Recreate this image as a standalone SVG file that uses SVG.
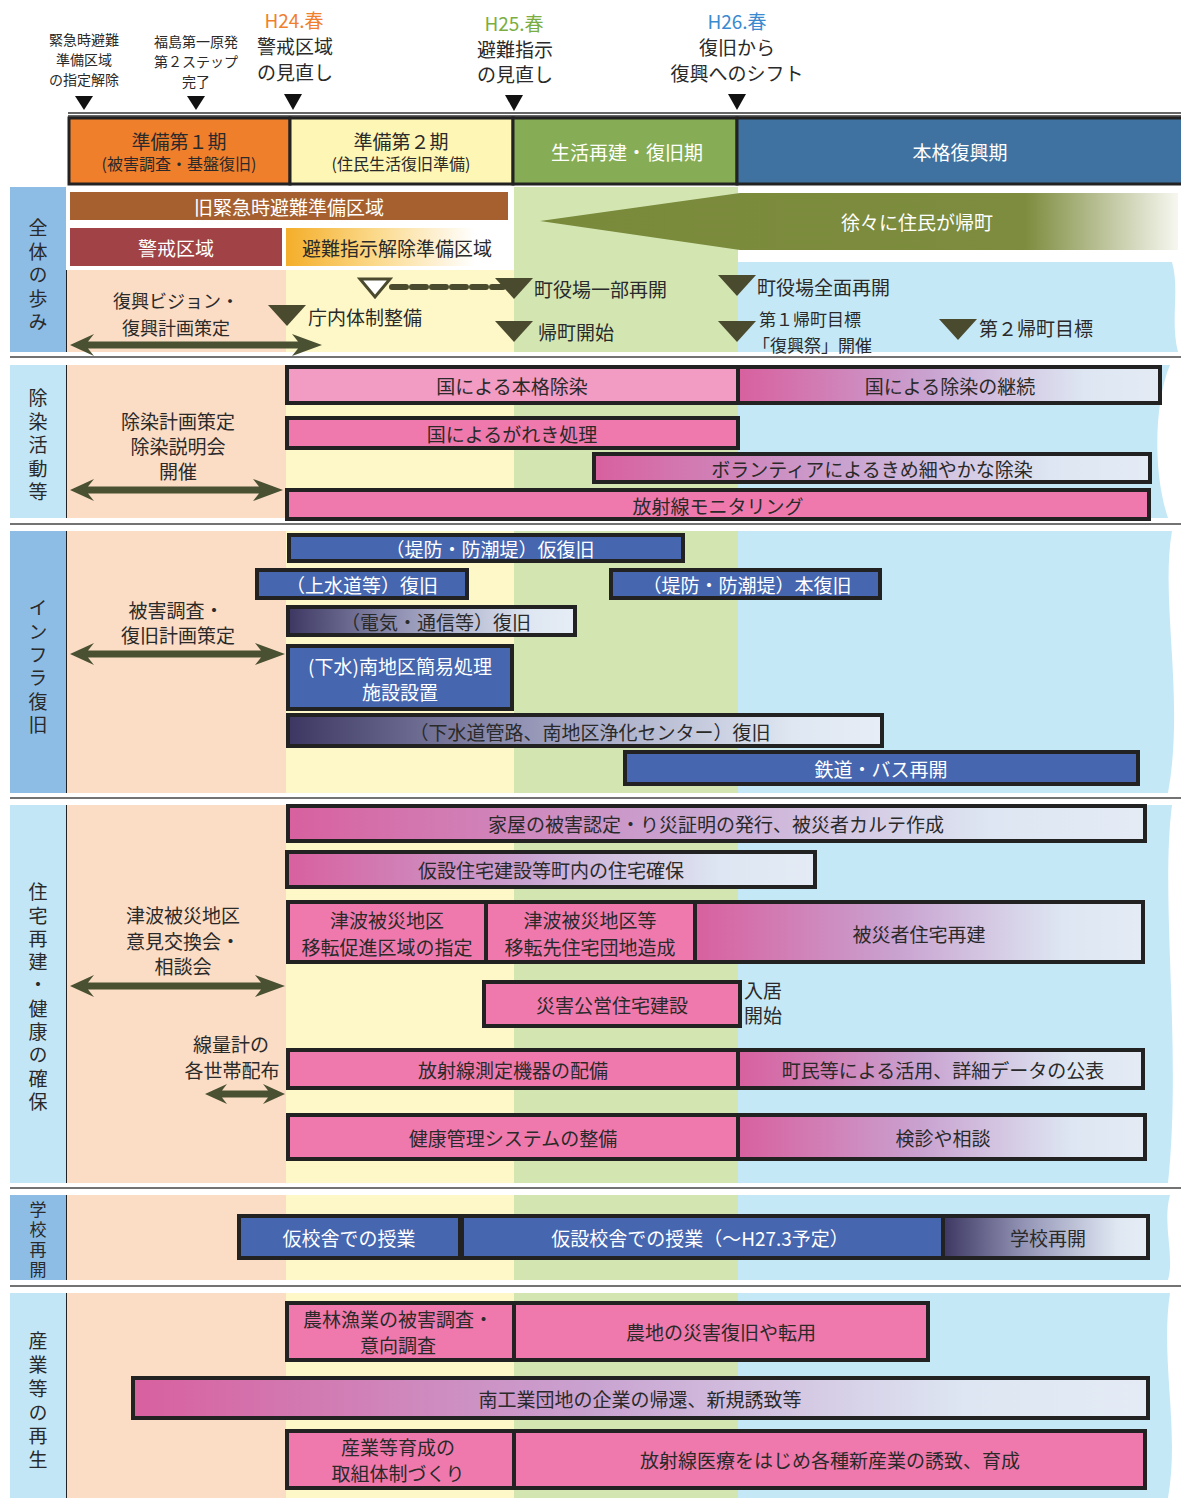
<svg xmlns="http://www.w3.org/2000/svg" width="1181" height="1498" viewBox="0 0 1181 1498">
<defs>
<style>
text{font-family:"Noto Sans CJK JP","Noto Sans",sans-serif;fill:#2a2a2a;font-size:19px;dominant-baseline:central}
.c{text-anchor:middle}
.w{fill:#ffffff}
.sm{font-size:14px}
.md{font-size:16px}
.vt{writing-mode:vertical-rl;text-anchor:start}
.bar{stroke:#222;stroke-width:4}
.pk{fill:#ef79ac}
.bl{fill:#4666b0}
.peach{fill:#fbdcc4}
.yel{fill:#fef8c8}
.grn{fill:#d3e6b2}
.lb{fill:#c5e8f7}
.lab1{fill:#8dbde5}
.lab2{fill:#c3e6f6}
.tri{fill:#4a4a2e}
.arr{fill:#4a5133}
.sep{stroke:#444;stroke-width:1.5}
.vl{stroke:#222;stroke-width:2}
</style>
<linearGradient id="pf" x1="0" y1="0" x2="1" y2="0">
<stop offset="0" stop-color="#d8609f"/>
<stop offset="0.45" stop-color="#c9a2d0"/>
<stop offset="0.82" stop-color="#dde6f2"/>
<stop offset="1" stop-color="#e4ebf5"/>
</linearGradient>
<linearGradient id="dg" x1="0" y1="0" x2="1" y2="0">
<stop offset="0" stop-color="#3c3762"/>
<stop offset="0.4" stop-color="#9495b6"/>
<stop offset="0.85" stop-color="#dfe7f2"/>
<stop offset="1" stop-color="#e6edf6"/>
</linearGradient>
<linearGradient id="og" x1="0" y1="0" x2="1" y2="0">
<stop offset="0" stop-color="#f4ae2a"/>
<stop offset="0.4" stop-color="#fbd98a"/>
<stop offset="0.85" stop-color="#ffffff"/>
</linearGradient>
<linearGradient id="wg" x1="0" y1="0" x2="1" y2="0">
<stop offset="0" stop-color="#7a8a3b"/>
<stop offset="0.76" stop-color="#7d8c3e"/>
<stop offset="1" stop-color="#f7f7f0"/>
</linearGradient>
</defs>
<rect width="1181" height="1498" fill="#ffffff"/>

<!-- section backgrounds -->
<g id="backgrounds">
<rect x="514" y="187" width="224" height="165" class="grn"/>
<rect x="67" y="270" width="219" height="82" class="peach"/>
<rect x="286" y="270" width="228" height="82" class="yel"/>
<path d="M738,262 H1172 C1180,290 1170,320 1178,352 H738 Z" class="lb"/>
<rect x="67" y="365" width="219" height="153" class="peach"/>
<rect x="286" y="365" width="228" height="153" class="yel"/>
<rect x="514" y="365" width="224" height="153" class="grn"/>
<path d="M738,365 H1170 C1155,400 1152,470 1168,518 H738 Z" class="lb"/>
<rect x="67" y="531" width="219" height="262" class="peach"/>
<rect x="286" y="531" width="228" height="262" class="yel"/>
<rect x="514" y="531" width="224" height="262" class="grn"/>
<path d="M738,531 H1172 C1160,600 1185,700 1168,793 H738 Z" class="lb"/>
<rect x="67" y="805" width="219" height="378" class="peach"/>
<rect x="286" y="805" width="228" height="378" class="yel"/>
<rect x="514" y="805" width="224" height="378" class="grn"/>
<path d="M738,805 H1172 C1160,900 1182,1050 1168,1183 H738 Z" class="lb"/>
<rect x="67" y="1195" width="219" height="85" class="peach"/>
<rect x="286" y="1195" width="228" height="85" class="yel"/>
<rect x="514" y="1195" width="224" height="85" class="grn"/>
<path d="M738,1195 H1170 C1162,1225 1175,1255 1168,1280 H738 Z" class="lb"/>
<rect x="67" y="1293" width="219" height="205" class="peach"/>
<rect x="286" y="1293" width="228" height="205" class="yel"/>
<rect x="514" y="1293" width="224" height="205" class="grn"/>
<path d="M738,1293 H1170 C1160,1360 1180,1430 1168,1498 H738 Z" class="lb"/>
</g>

<!-- separators -->
<g id="separators">
<line x1="10" y1="357" x2="1181" y2="357" class="sep"/>
<line x1="10" y1="524" x2="1181" y2="524" class="sep"/>
<line x1="10" y1="798" x2="1181" y2="798" class="sep"/>
<line x1="10" y1="1188" x2="1181" y2="1188" class="sep"/>
<line x1="10" y1="1286" x2="1181" y2="1286" class="sep"/>
<line x1="66" y1="270" x2="66" y2="352" class="vl"/>
<line x1="66" y1="365" x2="66" y2="518" class="vl"/>
<line x1="66" y1="531" x2="66" y2="793" class="vl"/>
<line x1="66" y1="805" x2="66" y2="1183" class="vl"/>
<line x1="66" y1="1195" x2="66" y2="1280" class="vl"/>
<line x1="66" y1="1293" x2="66" y2="1498" class="vl"/>
</g>

<!-- section labels -->
<g id="label-s1"><rect x="10" y="187" width="56" height="165" class="lab1"/>
<text class="vt" x="38" y="218.5" style="letter-spacing:4.5px">全体の歩み</text></g>
<g id="label-s2"><rect x="10" y="365" width="56" height="153" class="lab2"/>
<text class="vt" x="38" y="388.5" style="letter-spacing:4.5px">除染活動等</text></g>
<g id="label-s3"><rect x="10" y="531" width="56" height="262" class="lab1"/>
<text class="vt" x="38" y="598.5" style="letter-spacing:4.4px">インフラ復旧</text></g>
<g id="label-s4"><rect x="10" y="805" width="56" height="378" class="lab2"/>
<text class="vt" x="38" y="882.5" style="letter-spacing:4.3px">住宅再建・健康の確保</text></g>
<g id="label-s5"><rect x="10" y="1195" width="56" height="85" class="lab1"/>
<text class="vt" x="38" y="1201.5" style="font-size:17px;letter-spacing:3px">学校再開</text></g>
<g id="label-s6"><rect x="10" y="1293" width="56" height="205" class="lab2"/>
<text class="vt" x="38" y="1331.5" style="letter-spacing:4.8px">産業等の再生</text></g>

<!-- header -->
<g id="timeline-header">
<line x1="68" y1="113" x2="1181" y2="113" stroke="#333" stroke-width="1.5"/>
<line x1="68" y1="116" x2="1181" y2="116" stroke="#333" stroke-width="1.5"/>
<polygon points="75,96 93,96 84,110" fill="#111"/>
<polygon points="187,96 205,96 196,110" fill="#111"/>
<polygon points="284,94 302,94 293,110" fill="#111"/>
<polygon points="505,95 523,95 514,111" fill="#111"/>
<polygon points="728,94 746,94 737,110" fill="#111"/>
<text class="c sm"><tspan x="84" y="39">緊急時避難</tspan><tspan x="84" y="59">準備区域</tspan><tspan x="84" y="79">の指定解除</tspan></text>
<text class="c sm"><tspan x="196" y="41">福島第一原発</tspan><tspan x="196" y="61">第２ステップ</tspan><tspan x="196" y="81">完了</tspan></text>
<text class="c" x="294" y="19" style="fill:#f0802e">H24.春</text>
<text class="c"><tspan x="295" y="45">警戒区域</tspan><tspan x="295" y="71">の見直し</tspan></text>
<text class="c" x="514" y="22" style="fill:#7aae40">H25.春</text>
<text class="c"><tspan x="515" y="48">避難指示</tspan><tspan x="515" y="73">の見直し</tspan></text>
<text class="c" x="737" y="20" style="fill:#3a8ad0">H26.春</text>
<text class="c"><tspan x="737" y="46">復旧から</tspan><tspan x="737" y="72">復興へのシフト</tspan></text>
</g>
<g id="phase1"><rect x="69" y="118" width="221" height="66" fill="#f07f2c" stroke="#222" stroke-width="3"/>
<text class="c" x="179" y="140">準備第１期</text><text class="c md" x="179" y="163">(被害調査・基盤復旧)</text></g>
<g id="phase2"><rect x="290" y="118" width="223" height="66" fill="#fef6b4" stroke="#222" stroke-width="3"/>
<text class="c" x="401" y="140">準備第２期</text><text class="c md" x="401" y="163">(住民生活復旧準備)</text></g>
<g id="phase3"><rect x="513" y="118" width="224" height="66" fill="#86ad55" stroke="#222" stroke-width="3"/>
<text class="c w" x="627" y="151">生活再建・復旧期</text></g>
<g id="phase4"><rect x="737" y="118" width="446" height="66" fill="#3f72a0" stroke="#222" stroke-width="3"/>
<text class="c w" x="960" y="151">本格復興期</text></g>

<!-- S1 content -->
<g id="zone-old"><rect x="70" y="192" width="438" height="28" fill="#a6602f"/><text class="c w" x="289" y="206">旧緊急時避難準備区域</text></g>
<g id="zone-return"><polygon points="540,221 740,193 1178,193 1178,250 740,250" fill="url(#wg)"/><text class="c w" x="917" y="221">徐々に住民が帰町</text></g>
<g id="zone-keikai"><rect x="70" y="228" width="212" height="38" fill="#a04246"/><text class="c w" x="176" y="247">警戒区域</text></g>
<g id="zone-hinan"><rect x="286" y="228" width="222" height="38" fill="url(#og)"/><text class="c" x="397" y="247">避難指示解除準備区域</text></g>
<g id="ms-vision"><text class="c" style="font-size:18px"><tspan x="176" y="300">復興ビジョン・</tspan><tspan x="176" y="327">復興計画策定</tspan></text></g>
<g id="ms-chonai"><polygon points="268,305 306,305 287,326" class="tri"/><text x="308" y="316">庁内体制整備</text></g>
<g id="ms-white"><polygon points="360,279 390,279 375,297" fill="#ffffff" stroke="#4a4a2e" stroke-width="3"/></g>
<g id="ms-yakuba1"><polygon points="495,278 533,278 514,299" class="tri"/><text x="534" y="288">町役場一部再開</text></g>
<g id="ms-kicho"><polygon points="495,321 533,321 514,342" class="tri"/><text x="538" y="331">帰町開始</text></g>
<g id="ms-yakuba2"><polygon points="718,275 756,275 737,296" class="tri"/><text x="757" y="286">町役場全面再開</text></g>
<g id="ms-goal1"><polygon points="718,321 756,321 737,342" class="tri"/><text x="759" y="318" style="font-size:17px">第１帰町目標</text><text x="753" y="344" style="font-size:17px">「復興祭」開催</text></g>
<g id="ms-goal2"><polygon points="939,319 977,319 958,340" class="tri"/><text x="979" y="327">第２帰町目標</text></g>

<!-- S2 -->
<g id="s2-text"><text class="c"><tspan x="178" y="420">除染計画策定</tspan><tspan x="178" y="445">除染説明会</tspan><tspan x="178" y="470">開催</tspan></text></g>
<g id="bar-honkaku"><rect x="287" y="367" width="451" height="36" fill="#f29bc3" class="bar"/><text class="c" x="512" y="385">国による本格除染</text></g>
<g id="bar-keizoku"><rect x="738" y="367" width="422" height="36" fill="url(#pf)" class="bar"/><text class="c" x="950" y="385">国による除染の継続</text></g>
<g id="bar-gareki"><rect x="287" y="418" width="451" height="30" class="bar pk"/><text class="c" x="512" y="433">国によるがれき処理</text></g>
<g id="bar-volunteer"><rect x="594" y="454" width="556" height="28" fill="url(#pf)" class="bar"/><text class="c" x="872" y="468">ボランティアによるきめ細やかな除染</text></g>
<g id="bar-monitoring"><rect x="287" y="490" width="862" height="29" class="bar pk"/><text class="c" x="718" y="505">放射線モニタリング</text></g>

<!-- S3 -->
<g id="s3-text"><text class="c"><tspan x="176" y="609">被害調査・</tspan><tspan x="178" y="634">復旧計画策定</tspan></text></g>
<g id="bar-teibo1"><rect x="289" y="535" width="394" height="26" class="bar bl"/><text class="c w" x="490" y="548">（堤防・防潮堤）仮復旧</text></g>
<g id="bar-josui"><rect x="257" y="570" width="210" height="28" class="bar bl"/><text class="c w" x="362" y="584">（上水道等）復旧</text></g>
<g id="bar-teibo2"><rect x="611" y="570" width="269" height="28" class="bar bl"/><text class="c w" x="747" y="584">（堤防・防潮堤）本復旧</text></g>
<g id="bar-denki"><rect x="288" y="607" width="287" height="28" fill="url(#dg)" class="bar"/><text class="c" x="436" y="621">（電気・通信等）復旧</text></g>
<g id="bar-gesui1"><rect x="288" y="646" width="224" height="63" class="bar bl"/><text class="c w"><tspan x="400" y="665">(下水)南地区簡易処理</tspan><tspan x="400" y="691">施設設置</tspan></text></g>
<g id="bar-gesui2"><rect x="288" y="715" width="594" height="31" fill="url(#dg)" class="bar"/><text class="c" x="590" y="731">（下水道管路、南地区浄化センター）復旧</text></g>
<g id="bar-tetsudo"><rect x="625" y="752" width="513" height="32" class="bar bl"/><text class="c w" x="881" y="768">鉄道・バス再開</text></g>

<!-- S4 -->
<g id="s4-text"><text class="c"><tspan x="183" y="914">津波被災地区</tspan><tspan x="183" y="940">意見交換会・</tspan><tspan x="183" y="965">相談会</tspan></text>
<text class="c"><tspan x="231" y="1043">線量計の</tspan><tspan x="232" y="1069">各世帯配布</tspan></text></g>
<g id="bar-kaoku"><rect x="288" y="806" width="857" height="35" fill="url(#pf)" class="bar"/><text class="c" x="716" y="823">家屋の被害認定・り災証明の発行、被災者カルテ作成</text></g>
<g id="bar-kasetsu"><rect x="287" y="852" width="528" height="35" fill="url(#pf)" class="bar"/><text class="c" x="551" y="869">仮設住宅建設等町内の住宅確保</text></g>
<g id="bar-iten1"><rect x="288" y="902" width="198" height="60" class="bar pk"/><text class="c"><tspan x="387" y="919">津波被災地区</tspan><tspan x="387" y="946">移転促進区域の指定</tspan></text></g>
<g id="bar-iten2"><rect x="486" y="902" width="209" height="60" class="bar pk"/><text class="c"><tspan x="590" y="919">津波被災地区等</tspan><tspan x="590" y="946">移転先住宅団地造成</tspan></text></g>
<g id="bar-saiken"><rect x="695" y="902" width="448" height="60" fill="url(#pf)" class="bar"/><text class="c" x="919" y="933">被災者住宅再建</text></g>
<g id="bar-koei"><rect x="484" y="982" width="256" height="44" class="bar pk"/><text class="c" x="612" y="1004">災害公営住宅建設</text></g>
<g id="note-nyukyo"><text><tspan x="744" y="989">入居</tspan><tspan x="744" y="1014">開始</tspan></text></g>
<g id="bar-sokutei"><rect x="288" y="1050" width="450" height="38" class="bar pk"/><text class="c" x="513" y="1069">放射線測定機器の配備</text></g>
<g id="bar-katsuyo"><rect x="738" y="1050" width="405" height="38" fill="url(#pf)" class="bar"/><text class="c" x="943" y="1069">町民等による活用、詳細データの公表</text></g>
<g id="bar-kenko"><rect x="288" y="1115" width="450" height="44" class="bar pk"/><text class="c" x="513" y="1137">健康管理システムの整備</text></g>
<g id="bar-kenshin"><rect x="738" y="1115" width="407" height="44" fill="url(#pf)" class="bar"/><text class="c" x="943" y="1137">検診や相談</text></g>

<!-- S5 -->
<g id="bar-karikosha"><rect x="239" y="1216" width="221" height="42" class="bar bl"/><text class="c w" x="349" y="1237">仮校舎での授業</text></g>
<g id="bar-kasetsukosha"><rect x="462" y="1216" width="481" height="42" class="bar bl"/><text class="c w" x="700" y="1237">仮設校舎での授業（～H27.3予定）</text></g>
<g id="bar-gakko"><rect x="943" y="1216" width="205" height="42" fill="url(#dg)" class="bar"/><text class="c" x="1048" y="1237">学校再開</text></g>

<!-- S6 -->
<g id="bar-nourin"><rect x="287" y="1303" width="227" height="57" class="bar pk"/><text class="c"><tspan x="398" y="1318">農林漁業の被害調査・</tspan><tspan x="398" y="1344">意向調査</tspan></text></g>
<g id="bar-nochi"><rect x="514" y="1303" width="414" height="57" class="bar pk"/><text class="c" x="721" y="1331">農地の災害復旧や転用</text></g>
<g id="bar-kogyo"><rect x="133" y="1378" width="1015" height="40" fill="url(#pf)" class="bar"/><text class="c" x="640" y="1398">南工業団地の企業の帰還、新規誘致等</text></g>
<g id="bar-ikusei"><rect x="287" y="1431" width="227" height="57" class="bar pk"/><text class="c"><tspan x="398" y="1446">産業等育成の</tspan><tspan x="398" y="1472">取組体制づくり</tspan></text></g>
<g id="bar-iryo"><rect x="514" y="1431" width="631" height="57" class="bar pk"/><text class="c" x="830" y="1459">放射線医療をはじめ各種新産業の誘致、育成</text></g>

<!-- connectors -->
<g id="connectors">
<line x1="392" y1="287" x2="503" y2="287" stroke="#4a4a2e" stroke-width="6" stroke-dasharray="14,6" stroke-linecap="round"/>
<polygon class="arr" points="70,345 94,334 88,341.5 298,341.5 292,334 322,345 292,356 298,348.5 88,348.5 94,356"/>
<polygon class="arr" points="70,490 94,479 88,486.5 259,486.5 253,479 283,490 253,501 259,493.5 88,493.5 94,501"/>
<polygon class="arr" points="70,654 94,643 88,650.5 261,650.5 255,643 285,654 255,665 261,657.5 88,657.5 94,665"/>
<polygon class="arr" points="70,986 94,975 88,982.5 261,982.5 255,975 285,986 255,997 261,989.5 88,989.5 94,997"/>
<polygon class="arr" points="205,1094 227,1084 222,1090.5 268,1090.5 263,1084 285,1094 263,1104 268,1097.5 222,1097.5 227,1104"/>
</g>
</svg>
